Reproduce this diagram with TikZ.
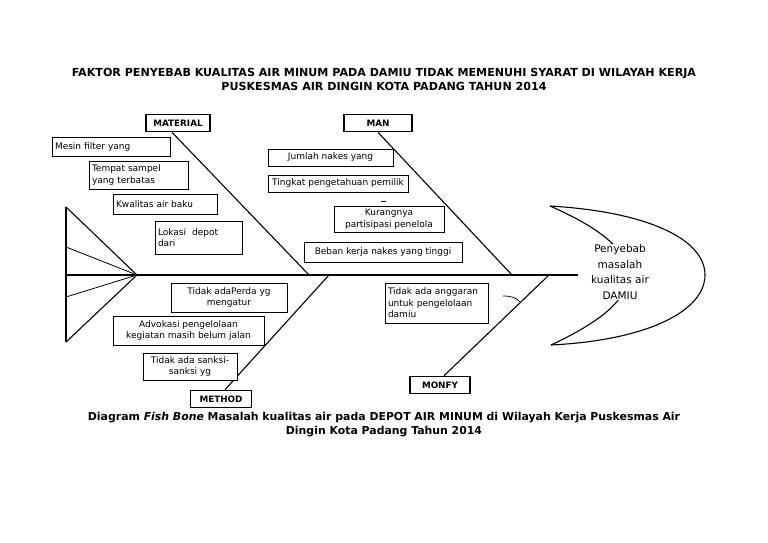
\documentclass[tikz,border=0pt]{standalone}
\usepackage{fontspec}
\setmainfont{DejaVu Sans}
\usetikzlibrary{backgrounds}
\tikzset{
  bone/.style={line width=1.1pt},
  catbox/.style={draw,line width=1.6pt,fill=white,inner sep=2pt,minimum height=17pt,font=\bfseries\fontsize{8.8}{10}\selectfont},
  causebox/.style={draw,line width=0.7pt,fill=white,inner sep=3pt,font=\fontsize{9}{11.5}\selectfont},
}
\begin{document}
\begin{tikzpicture}[x=1pt,y=-1pt]
\useasboundingbox (0,0) rectangle (768,543);

% title and caption
\node[font=\bfseries\fontsize{11.1}{14}\selectfont,align=center] (title) at (384,79)
  {FAKTOR PENYEBAB KUALITAS AIR MINUM PADA DAMIU TIDAK MEMENUHI SYARAT DI WILAYAH KERJA\\
   PUSKESMAS AIR DINGIN KOTA PADANG TAHUN 2014};
\node[font=\bfseries\fontsize{10.9}{14}\selectfont,align=center] (caption) at (384,425)
  {Diagram \textit{Fish Bone} Masalah kualitas air pada DEPOT AIR MINUM di Wilayah Kerja Puskesmas Air\\
   Dingin Kota Padang Tahun 2014};

% spine and tail
\coordinate (tailtop) at (66,207);
\coordinate (tailbot) at (66,342);
\coordinate (tailmidA) at (66,247);
\coordinate (tailmidB) at (66,297);
\coordinate (tailspine) at (66,275);
\coordinate (tip) at (137,275);
\coordinate (nose) at (578,275);
\draw[bone] (tailtop) -- (tailbot);
\draw[bone] (tailtop) -- (tip) -- (tailbot);
\draw[line width=0.8pt] (tailmidA) -- (tip) -- (tailmidB);
\draw[bone] (tailspine) -- (nose);

% head
\coordinate (headtop) at (550,206);
\coordinate (headbot) at (551,345);
\draw[bone] (headtop) .. controls (650,212) and (705,240) .. (705,275)
  .. controls (705,310) and (650,340) .. (headbot);
\draw[bone] (headtop) .. controls (600,228) and (628,250) .. (628,275)
  .. controls (628,300) and (600,322) .. (headbot);
\node[fill=white,align=center,inner sep=1pt,font=\fontsize{10.5}{15.5}\selectfont] (effect) at (620,272)
  {Penyebab\\masalah\\kualitas air\\DAMIU};

% categories
\node[catbox,minimum width=64pt] (material) at (178,123) {MATERIAL};
\node[catbox,minimum width=68pt] (man) at (378,123) {MAN};
\node[catbox,minimum width=61pt] (method) at (221,399) {METHOD};
\node[catbox,minimum width=60pt] (money) at (440,385) {MONFY};

\coordinate (jmat) at (309,275);
\coordinate (jman) at (512,275);
\coordinate (jmet) at (329,275);
\coordinate (jmon) at (549,275);
\begin{scope}[on background layer]
\draw[bone] ([xshift=-6pt]material.south) -- (jmat);
\draw[bone] (man.south) -- (jman);
\draw[bone] ([xshift=4pt]method.north) -- (jmet);
\draw[bone] ([xshift=4pt]money.north) -- (jmon);
\end{scope}

% material causes
\node[causebox,minimum width=118pt,minimum height=19pt,text width=112pt,align=left] (mat1) at (111,147) {Mesin filter yang};
\node[causebox,minimum width=99pt,minimum height=28pt,text width=93pt,align=left] (mat2) at (138.5,175) {Tempat sampel\\yang terbatas};
\node[causebox,minimum width=104pt,minimum height=20pt,text width=98pt,align=left] (mat3) at (165,204) {Kwalitas air baku};
\node[causebox,minimum width=87pt,minimum height=33pt,text width=81pt,align=left] (mat4) at (198.5,237.5) {Lokasi~ depot\\dari};

% man causes
\node[causebox,minimum width=125pt,minimum height=17pt,align=center] (man1) at (330.5,157.5) {Jumlah nakes yang};
\node[causebox,minimum width=140pt,minimum height=17pt,align=center] (man2) at (338,183.5) {Tingkat pengetahuan pemilik};
\node[causebox,minimum width=110pt,minimum height=26pt,align=center] (man3) at (389,219) {Kurangnya\\partisipasi penelola};
\node[causebox,minimum width=158pt,minimum height=20pt,align=center] (man4) at (383,252) {Beban kerja nakes yang tinggi};

% method causes
\node[causebox,minimum width=116pt,minimum height=29pt,align=center] (met1) at (229,297.5) {Tidak adaPerda yg\\mengatur};
\node[causebox,minimum width=151pt,minimum height=29pt,align=center] (met2) at (188.5,330.5) {Advokasi pengelolaan\\kegiatan masih belum jalan};
\node[causebox,minimum width=94pt,minimum height=27pt,align=center] (met3) at (190,366.5) {Tidak ada sanksi-\\sanksi yg};

% money cause
\node[causebox,minimum width=103pt,minimum height=40pt,text width=97pt,align=left] (mon1) at (436.5,303) {Tidak ada anggaran\\untuk pengelolaan\\damiu};

% stray marks
\draw[line width=0.7pt] (503,296) .. controls (512,296) and (517,298) .. (520,302);
\draw[line width=0.6pt] (381,201) -- (386,201);
\end{tikzpicture}
\end{document}
